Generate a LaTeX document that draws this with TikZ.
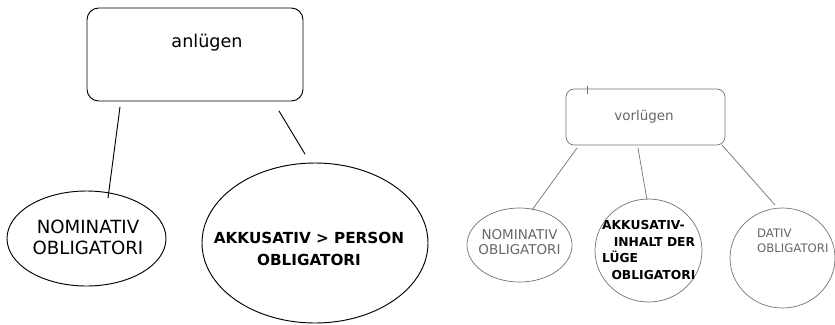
\documentclass[tikz,border=0pt]{standalone}
\usepackage{fontspec}
\setmainfont{DejaVu Sans}
\usepackage{tkz-euclide}
\usetikzlibrary{shapes.geometric}

\tikzset{
  verbbox/.style={draw, rounded corners=#1, line width=0.8pt},
  argell/.style={draw, ellipse, inner sep=0pt},
  leftpart/.style={black, line width=0.8pt},
  rightpart/.style={draw=black!55, line width=0.6pt},
  graytext/.style={text=black!60},
}

\begin{document}
\begin{tikzpicture}[x=0.03cm, y=-0.03cm]
                \useasboundingbox (0,0) rectangle (835,324);

                % anluegen
                \node[verbbox=10pt, minimum width=6.48cm, minimum height=2.79cm] (anl) at (195,54.5) {};
                \node[font=\fontsize{15}{18}\selectfont] (anltext) at (207,43) {anlügen};

                \node[argell, leftpart, minimum width=4.77cm, minimum height=2.85cm] (nomA) at (86.5,238.5) {};
                \node[align=center, font=\fontsize{15.5}{18}\selectfont] (nomAtext) at (88,237.5) {NOMINATIV\\OBLIGATORI};

                \node[argell, leftpart, minimum width=6.78cm, minimum height=4.8cm] (akkA) at (315,243) {};
                \node[align=center, font=\bfseries\fontsize{13}{19}\selectfont] (akkAtext) at (309,249) {AKKUSATIV > PERSON\\ OBLIGATORI};

                \tkzDefPoint(120,107){a1}
                \tkzDefPoint(108,198){a2}
                \tkzDefPoint(279,111){b1}
                \tkzDefPoint(305,154){b2}
                \tkzDrawSegment[leftpart](a1,a2)
                \tkzDrawSegment[leftpart](b1,b2)

                % vorluegen
                \node[verbbox=7pt, rightpart, minimum width=4.77cm, minimum height=1.68cm] (vor) at (645.5,117) {};
                \node[graytext, font=\fontsize{11.5}{13}\selectfont] (vortext) at (644,117) {vorlügen};

                \node[argell, rightpart, minimum width=3.15cm, minimum height=2.22cm] (nomB) at (519.5,245) {};
                \node[graytext, align=center, font=\fontsize{11.5}{12.75}\selectfont] (nomBtext) at (519.5,242.5) {NOMINATIV\\OBLIGATORI};

                \node[argell, rightpart, minimum width=3.21cm, minimum height=3.09cm] (akkB) at (648.5,250.5) {};
                \node[anchor=west, align=left, font=\bfseries\fontsize{10.5}{14}\selectfont] (akkBtext) at (598,250)
                  {AKKUSATIV-\\\hspace*{10pt}INHALT DER\\LÜGE\\\hspace*{8pt}OBLIGATORI};

                \node[argell, rightpart, minimum width=3.15cm, minimum height=3cm] (datB) at (782.5,258) {};
                \node[graytext, anchor=west, align=left, font=\fontsize{10}{12.75}\selectfont] (datBtext) at (753,240.5) {DATIV\\OBLIGATORI};

                \tkzDefPoint(577,148){c1}
                \tkzDefPoint(532,210){c2}
                \tkzDefPoint(638,148){d1}
                \tkzDefPoint(647,200){d2}
                \tkzDefPoint(722,145){e1}
                \tkzDefPoint(775,205){e2}
                \tkzDefPoint(587,86){f1}
                \tkzDefPoint(587,94){f2}
                \tkzDrawSegment[rightpart](c1,c2)
                \tkzDrawSegment[rightpart](d1,d2)
                \tkzDrawSegment[rightpart](e1,e2)
                \tkzDrawSegment[rightpart](f1,f2)
            \end{tikzpicture}
\end{document}
